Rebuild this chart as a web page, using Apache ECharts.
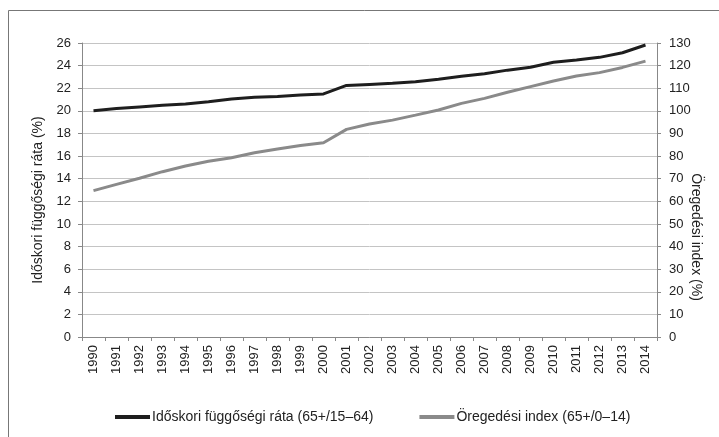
<!DOCTYPE html>
<html>
<head>
<meta charset="utf-8">
<script src="https://cdn.jsdelivr.net/npm/echarts@6/dist/echarts.min.js"></script>
<style>
    html, body { margin: 0; padding: 0; background: #fff; }
    #chart { width: 719px; height: 437px; }
</style>
</head>
<body>
<div id="chart"></div>
<script>
// évek
var years = ['1990', '1991', '1992', '1993', '1994', '1995', '1996', '1997', '1998', '1999',
    '2000', '2001', '2002', '2003', '2004', '2005', '2006', '2007', '2008', '2009',
    '2010', '2011', '2012', '2013', '2014'];

// Időskori függőségi ráta (bal tengely)
var fuggosegiRata = [20.0, 20.2, 20.35, 20.5, 20.6, 20.8, 21.05, 21.2, 21.27, 21.4,
    21.5, 22.25, 22.34, 22.43, 22.57, 22.8, 23.05, 23.28, 23.6, 23.85,
    24.29, 24.5, 24.73, 25.14, 25.82];

// Öregedési index (jobb tengely)
var oregedesiIndex = [64.7, 67.5, 70.2, 73.1, 75.6, 77.7, 79.3, 81.5, 83.1, 84.7,
    85.9, 91.8, 94.2, 95.9, 98.1, 100.4, 103.3, 105.5, 108.2, 110.7,
    113.2, 115.4, 116.9, 119.2, 122.0];

var leftTicks = { min: 0, max: 26, interval: 2 };
var rightTicks = { min: 0, max: 130, interval: 10 };

var names = ['Időskori függőségi ráta (65+/15–64)', 'Öregedési index (65+/0–14)'];
var leftTitle = 'Időskori függőségi ráta (%)';
var rightTitle = 'Öregedési index (%)';

var font = 'Liberation Sans, Arial, sans-serif';
var txt = '#222';

var myChart = echarts.init(document.getElementById('chart'));

option = {
    animation: false,
    textStyle: { fontFamily: font },
    graphic: [{
        type: 'rect',
        shape: { x: 8.5, y: 10.5, width: 720, height: 440 },
        style: { fill: 'none', stroke: '#777', lineWidth: 1 }
    }, {
        // bal tengely címe
        type: 'text',
        x: 38,
        y: 200,
        rotation: Math.PI / 2,
        style: {
            text: leftTitle,
            font: '14px ' + font,
            fill: txt,
            align: 'center',
            verticalAlign: 'middle'
        }
    }, {
        // jobb tengely címe
        type: 'text',
        x: 696,
        y: 237,
        rotation: -Math.PI / 2,
        style: {
            text: rightTitle,
            font: '14px ' + font,
            fill: txt,
            align: 'center',
            verticalAlign: 'middle'
        }
    }],
    grid: { left: 82, right: 62, top: 43, bottom: 100 },
    legend: {
        top: 405,
        left: 110,
        icon: 'rect',
        itemWidth: 35,
        itemHeight: 4,
        itemGap: 46,
        textStyle: { fontSize: 14, color: txt, fontFamily: font, padding: [0, 0, 0, -3] },
        data: names
    },
    xAxis: {
        type: 'category',
        data: years,
        boundaryGap: true,
        axisLine: { lineStyle: { color: '#888', width: 1 } },
        axisTick: { show: true, length: 4, lineStyle: { color: '#888' } },
        axisLabel: { rotate: 90, margin: 8, fontSize: 13, color: txt, fontFamily: font }
    },
    yAxis: [{
        type: 'value',
        min: leftTicks.min,
        max: leftTicks.max,
        interval: leftTicks.interval,
        axisLine: { show: true, lineStyle: { color: '#888', width: 1 } },
        axisTick: { show: true, length: 4, lineStyle: { color: '#888' } },
        axisLabel: { fontSize: 13, color: txt, margin: 11, fontFamily: font },
        splitLine: { lineStyle: { color: '#c4c4c4', width: 1 } }
    }, {
        type: 'value',
        position: 'right',
        min: rightTicks.min,
        max: rightTicks.max,
        interval: rightTicks.interval,
        axisLine: { show: true, lineStyle: { color: '#888', width: 1 } },
        axisTick: { show: true, length: 4, lineStyle: { color: '#888' } },
        axisLabel: { fontSize: 13, color: txt, margin: 12, fontFamily: font },
        splitLine: { show: false }
    }],
    series: [{
        name: names[0],
        type: 'line',
        yAxisIndex: 0,
        data: fuggosegiRata,
        showSymbol: false,
        symbol: 'none',
        color: '#1e1e1e',
        lineStyle: { width: 3, color: '#1e1e1e' }
    }, {
        name: names[1],
        type: 'line',
        yAxisIndex: 1,
        data: oregedesiIndex,
        showSymbol: false,
        symbol: 'none',
        color: '#8a8a8a',
        lineStyle: { width: 3, color: '#8a8a8a' }
    }]
};
myChart.setOption(option);
</script>
</body>
</html>
